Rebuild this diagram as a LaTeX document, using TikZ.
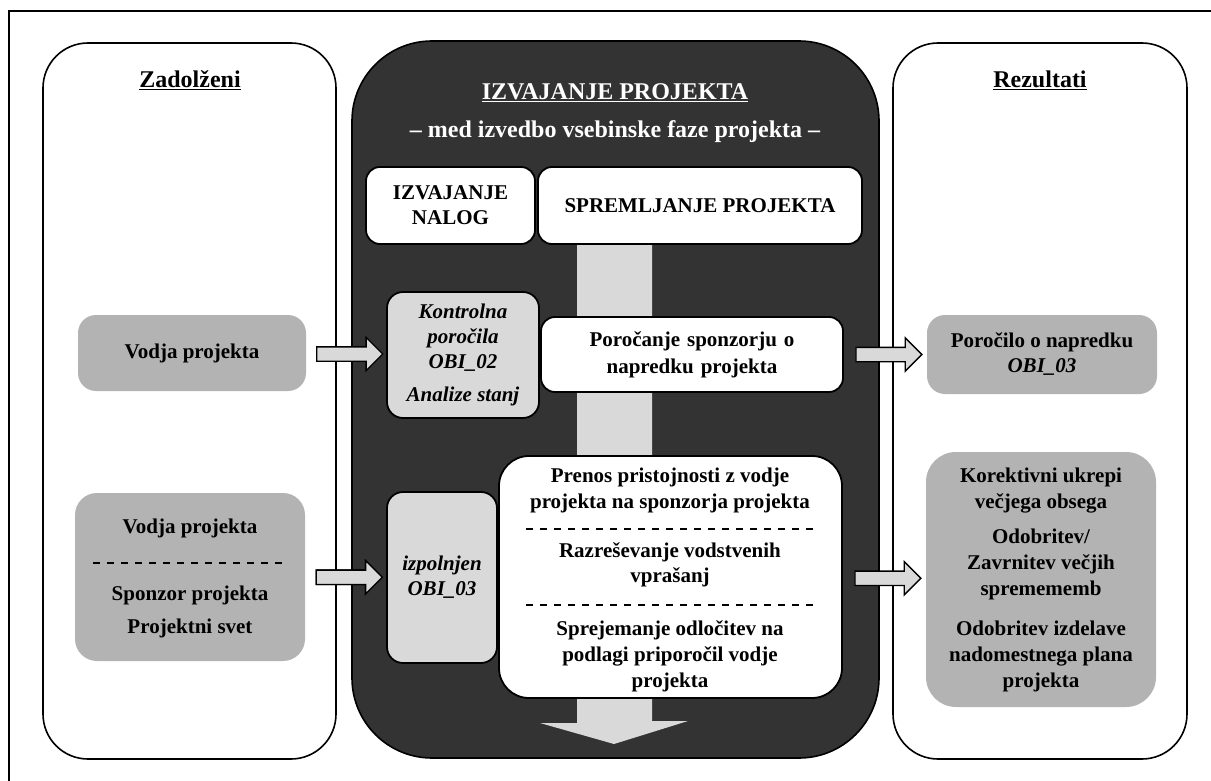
\documentclass[tikz,border=0pt]{standalone}
\usepackage{fontspec}
\setmainfont{Liberation Serif}
\usetikzlibrary{shapes.arrows,calc}

\definecolor{panelgray}{HTML}{333333}
\definecolor{boxgray}{HTML}{B3B3B3}
\definecolor{palegray}{HTML}{D9D9D9}

\newcommand{\bodyfont}{\fontsize{21}{25}\selectfont\bfseries}
\newcommand{\headfont}{\fontsize{24}{28}\selectfont\bfseries}

\tikzset{
  column/.style={draw=black, line width=1.6pt, fill=white, rounded corners=45pt},
  whitebox/.style={draw=black, line width=1.8pt, fill=white, rounded corners=14pt,
    align=center, inner sep=0pt, font=\bodyfont},
  notebox/.style={whitebox, fill=palegray, rounded corners=16pt},
  graybox/.style={fill=boxgray, rounded corners=18pt, align=center, inner sep=0pt, font=\bodyfont},
  label/.style={align=center, inner sep=0pt, font=\bodyfont},
  heading/.style={align=center, inner sep=0pt, font=\headfont},
  sepline/.style={line width=1.8pt, dash pattern=on 7pt off 7pt},
  barrow/.style={single arrow, draw=black, line width=1.4pt, fill=palegray,
    inner xsep=0pt, inner ysep=6.5pt, minimum width=33pt,
    single arrow head extend=9.5pt, minimum height=66pt},
}

\begin{document}
\begin{tikzpicture}[x=1pt, y=-1pt]
\useasboundingbox (0,0) rectangle (1211,781);

% outer frame
\draw[line width=1.2pt] (9,800) -- (9,11) -- (1230,11);

% three columns
\draw[column] (43,43) rectangle (336,759);
\draw[column] (893,43) rectangle (1187,759);
\fill[panelgray, draw=black, line width=1.6pt, rounded corners=80pt] (352,41) rectangle (879,758);

% column headings
\node[heading] (hleft) at (190,80) {\underline{Zadolženi}};
\node[heading] (hright) at (1040,80) {\underline{Rezultati}};
\node[heading, text=white] (hmid) at (615,93) {\underline{IZVAJANJE PROJEKTA}};
\node[heading, text=white] (hsub) at (615,132) {– med izvedbo vsebinske faze projekta –};

% progress band with arrow head
\fill[palegray] (577,244) -- (652,244) -- (652,721) -- (688,721) -- (614,744)
  -- (540,723) -- (577,723) -- cycle;

% headers inside the central panel
\node[whitebox, minimum width=169pt, minimum height=77pt] (nalog) at (450.5,205.5)
  {IZVAJANJE\\NALOG};
\node[whitebox, minimum width=324pt, minimum height=77pt] (sprem) at (700,205.5)
  {SPREMLJANJE PROJEKTA};

% inputs and activities
\node[notebox, minimum width=152pt, minimum height=126pt] (kontr) at (463,355)
  {\itshape Kontrolna\\\itshape poročila\\\itshape OBI\_02\\[8pt]\itshape Analize stanj};
\node[whitebox, minimum width=302pt, minimum height=75pt, text width=290pt,
  font=\fontsize{21}{27}\selectfont\bfseries] (porsp) at (692,354.5)
  {Poročanje sponzorju o\\napredku projekta};
\node[notebox, minimum width=110pt, minimum height=171pt] (izpol) at (442,577.5)
  {\itshape izpolnjen\\\itshape OBI\_03};
\node[whitebox, minimum width=343pt, minimum height=242pt, rounded corners=30pt] (odl) at (670.5,577) {};
\node[label, font=\fontsize{21}{26}\selectfont\bfseries] (odl1) at (670,490)
  {Prenos pristojnosti z vodje\\projekta na sponzorja projekta};
\node[label, font=\fontsize{21}{25}\selectfont\bfseries] (odl2) at (670,565)
  {Razreševanje vodstvenih\\vprašanj};
\node[label, font=\fontsize{21}{26}\selectfont\bfseries] (odl3) at (670,656)
  {Sprejemanje odločitev na\\podlagi priporočil vodje\\projekta};
\coordinate (d1a) at (526,529);
\coordinate (d1b) at (817,529);
\coordinate (d2a) at (526,605);
\coordinate (d2b) at (817,605);
\draw[sepline] (d1a) -- (d1b);
\draw[sepline] (d2a) -- (d2b);

% responsible roles
\node[graybox, minimum width=228pt, minimum height=76pt] (vodja) at (192,353) {Vodja projekta};
\node[graybox, minimum width=230pt, minimum height=168pt, rounded corners=22pt] (skupina) at (190,577) {};
\node[label] (sk1) at (190,528) {Vodja projekta};
\node[label] (sk2) at (190,595) {Sponzor projekta};
\node[label] (sk3) at (190,628) {Projektni svet};
\coordinate (d3a) at (93,563);
\coordinate (d3b) at (287,563);
\draw[sepline] (d3a) -- (d3b);

% results
\node[graybox, minimum width=230pt, minimum height=79pt, font=\fontsize{21}{25}\selectfont\bfseries]
  (napr) at (1042,354.5) {Poročilo o napredku\\\itshape OBI\_03};
\node[graybox, minimum width=230pt, minimum height=255pt, rounded corners=30pt,
  font=\fontsize{21}{26}\selectfont\bfseries] (ukrepi) at (1041,579.5)
  {Korektivni ukrepi\\večjega obsega\\[9pt]Odobritev/\\Zavrnitev večjih\\spremememb\\[14pt]Odobritev izdelave\\nadomestnega plana\\projekta};

% block arrows between the boxes
\node[barrow] (a1) at ($(vodja.east)!0.5!(kontr.west)$) {};
\node[barrow] (a2) at ($(skupina.east)!0.5!(izpol.west)$ |- sk1) {};
\node[barrow] (a3) at ($(skupina.east)!0.5!(izpol.west)$ |- sk3) {};
\node[barrow] (a4) at ($(porsp.east)!0.5!(napr.west)$) {};
\node[barrow] (a5) at ($(odl.east)!0.5!(ukrepi.west)$) {};
\end{tikzpicture}
\end{document}
